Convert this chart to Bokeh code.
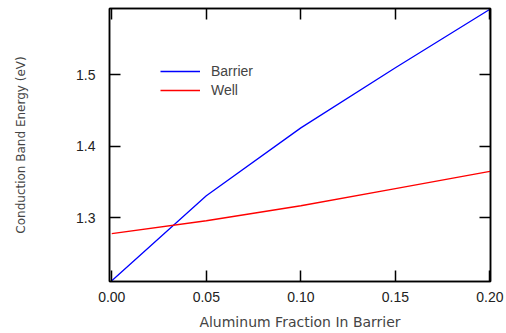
from bokeh.plotting import figure
from bokeh.models import LinearAxis, FixedTicker, Range1d, Legend, LegendItem, CustomJSTickFormatter
from bokeh.embed import file_html
from bokeh.resources import INLINE

al_fraction = [0.00, 0.05, 0.10, 0.15, 0.20]
barrier = [1.212, 1.331, 1.426, 1.510, 1.592]
well = [1.278, 1.296, 1.317, 1.341, 1.365]
x_ticks = [0.00, 0.05, 0.10, 0.15, 0.20]
y_ticks = [1.3, 1.4, 1.5]

p = figure(width=505, height=332, output_backend="svg", toolbar_location=None,
           x_range=Range1d(-0.0012, 0.2003), y_range=Range1d(1.211, 1.593),
           x_axis_location="below", y_axis_location="left")
p.min_border_left = 109
p.min_border_right = 15
p.min_border_top = 8
p.min_border_bottom = 47
p.grid.visible = False
p.outline_line_color = "black"
p.outline_line_width = 1.5

r1 = p.line(al_fraction, barrier, line_color="#0000ff", line_width=1.3)
r2 = p.line(al_fraction, well, line_color="#ff0000", line_width=1.3)

def style(ax):
    ax.axis_line_color = "black"
    ax.axis_line_width = 1.5
    ax.major_tick_in = 11
    ax.major_tick_out = 0
    ax.major_tick_line_width = 1.5
    ax.minor_tick_line_color = None
    ax.major_label_text_font = "Liberation Sans"
    ax.major_label_text_font_size = "14px"
    ax.major_label_text_color = "#222222"

xa = p.xaxis[0]
xa.ticker = FixedTicker(ticks=x_ticks)
xa.formatter = CustomJSTickFormatter(code="return tick.toFixed(2);")
style(xa)
xa.major_label_standoff = 10
xa.axis_label = "Aluminum Fraction In Barrier"
xa.axis_label_text_font = "DejaVu Sans"
xa.axis_label_text_font_style = "normal"
xa.axis_label_text_font_size = "14px"
xa.axis_label_standoff = 9

ya = p.yaxis[0]
ya.ticker = FixedTicker(ticks=y_ticks)
ya.formatter = CustomJSTickFormatter(code="return tick.toFixed(1);")
style(ya)
ya.major_label_standoff = 14
ya.axis_label = "Conduction Band Energy (eV)"
ya.axis_label_text_font = "DejaVu Sans"
ya.axis_label_text_font_style = "normal"
ya.axis_label_text_font_size = "12px"
ya.axis_label_standoff = 45

top = LinearAxis(ticker=FixedTicker(ticks=x_ticks),
                 formatter=CustomJSTickFormatter(code="return '';"))
style(top)
p.add_layout(top, "above")
right = LinearAxis(ticker=FixedTicker(ticks=y_ticks),
                   formatter=CustomJSTickFormatter(code="return '';"))
style(right)
p.add_layout(right, "right")

legend = Legend(items=[LegendItem(label="Barrier", renderers=[r1]),
                       LegendItem(label="Well", renderers=[r2])],
                location=(51, 183))
legend.border_line_color = None
legend.background_fill_alpha = 0
legend.label_text_font = "Liberation Sans"
legend.label_text_font_size = "14px"
legend.glyph_width = 40
legend.label_standoff = 11
legend.label_height = 14
legend.glyph_height = 14
legend.spacing = 3
legend.padding = 0
legend.margin = 0
p.add_layout(legend, "center")

open("out.html", "w").write(file_html(p, INLINE))
